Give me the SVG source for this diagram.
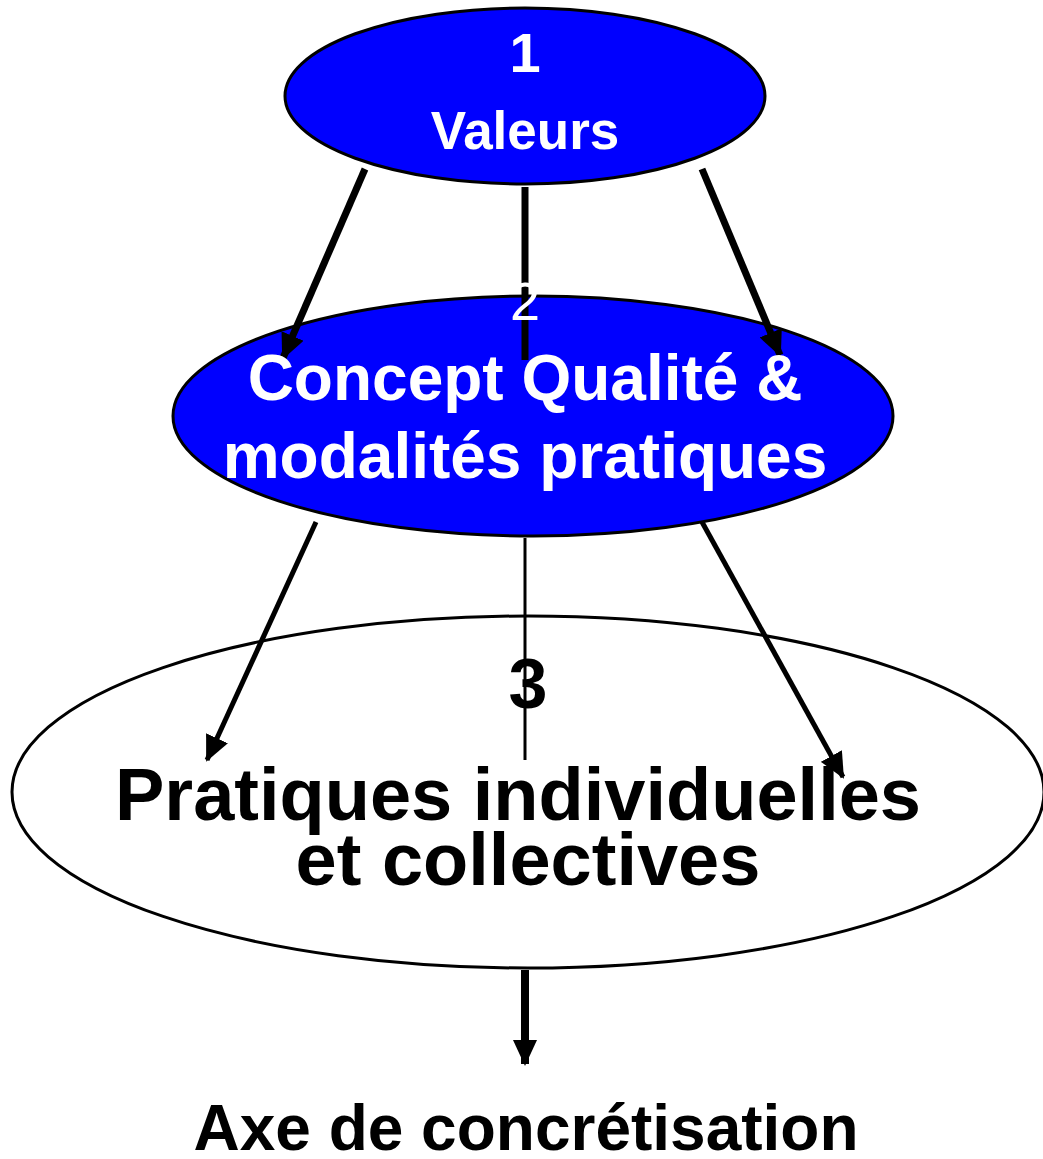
<svg xmlns="http://www.w3.org/2000/svg" width="1043" height="1159" viewBox="0 0 1043 1159">
<style>
.blue{fill:#0000FF;stroke:#000;stroke-width:3}
.white{fill:#fff;stroke:#000;stroke-width:3}
.t{font-family:"Liberation Sans",Arial,sans-serif;font-weight:bold;text-anchor:middle}
.w{fill:#fff}
.k{fill:#000}
.c{stroke:#000;fill:none}
</style>
<defs>
<marker id="ah" markerUnits="userSpaceOnUse" viewBox="0 0 26 24" refX="24" refY="12" markerWidth="26" markerHeight="24" orient="auto">
<path d="M0,0 L26,12 L0,24 Z" fill="#000"/>
</marker>
</defs>
<g id="n1-shape"><ellipse class="blue" cx="525" cy="96" rx="240" ry="88"/></g>
<g id="n2-shape"><ellipse class="blue" cx="533" cy="416" rx="360" ry="120"/></g>
<g id="n3-shape"><ellipse class="white" cx="528" cy="792" rx="516" ry="176"/></g>
<g id="connectors">
<line class="c" x1="365" y1="169" x2="283" y2="358" stroke-width="7" marker-end="url(#ah)"/>
<line class="c" x1="702" y1="169" x2="780" y2="355" stroke-width="7" marker-end="url(#ah)"/>
<line class="c" x1="525" y1="187" x2="525" y2="360" stroke-width="7"/>
<line class="c" x1="316" y1="522" x2="207" y2="760" stroke-width="5" marker-end="url(#ah)"/>
<line class="c" x1="702" y1="522" x2="843" y2="777" stroke-width="5" marker-end="url(#ah)"/>
<line class="c" x1="525" y1="538" x2="525" y2="760" stroke-width="3"/>
<line class="c" x1="525" y1="970" x2="525" y2="1064" stroke-width="8" marker-end="url(#ah)"/>
</g>
<g id="n1">
<text class="t w" x="525" y="72" font-size="56">1</text>
<text class="t w" x="525" y="149" font-size="53">Valeurs</text>
</g>
<g id="n2">
<text class="t w" x="525" y="320" font-size="54" style="font-weight:normal">2</text>
<text class="t w" x="525" y="400" font-size="64">Concept Qualité &amp;</text>
<text class="t w" x="525" y="478" font-size="64">modalités pratiques</text>
</g>
<g id="n3">
<text class="t k" x="528" y="708" font-size="70">3</text>
<text class="t k" x="518" y="820" font-size="74">Pratiques individuelles</text>
<text class="t k" x="528" y="885" font-size="74">et collectives</text>
</g>
<g id="label-axe">
<text class="t k" x="526" y="1150" font-size="64">Axe de concrétisation</text>
</g>
</svg>
